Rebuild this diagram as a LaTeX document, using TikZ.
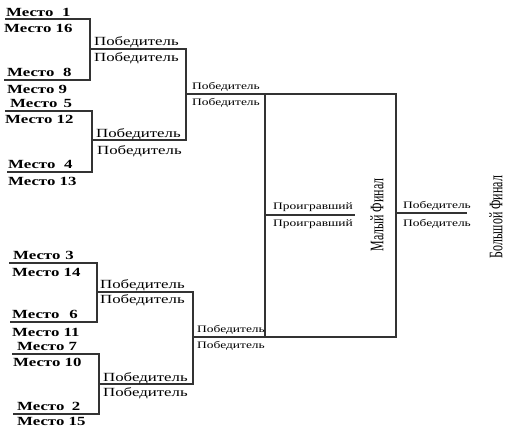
\documentclass[tikz,border=0pt]{standalone}
\usepackage{fontspec}
\setmainfont{Liberation Serif}
\newfontfamily\wfont[FakeStretch=1.35]{Liberation Serif}
\tikzset{
  br/.style={draw=black!80, line width=1.5bp},
  place/.style={anchor=base west, inner sep=0pt, font=\wfont\bfseries\fontsize{12.5}{14}\selectfont},
  win/.style={anchor=base west, inner sep=0pt, font=\wfont\fontsize{12.5}{14}\selectfont},
  win2/.style={anchor=base west, inner sep=0pt, font=\wfont\fontsize{10}{12}\selectfont},
  vlab/.style={inner sep=0pt, font=\fontsize{12}{14}\selectfont},
}
\newcommand{\vtext}[1]{\rotatebox{90}{\scalebox{1}[1.6]{#1}}}
\begin{document}
\begin{tikzpicture}[x=1bp,y=-1bp]
\useasboundingbox (0,0) rectangle (511,431);
% ---- coordinates (pixel positions, y downwards)
% top bracket
\coordinate (a1) at (5,19);   \coordinate (a1r) at (90,19);
\coordinate (a2) at (4,80);   \coordinate (a2r) at (90,80);
\coordinate (w1) at (90,49);  \coordinate (w1r) at (186,49);
\coordinate (a3) at (5,111);  \coordinate (a3r) at (92,111);
\coordinate (a4) at (7,172);  \coordinate (a4r) at (92,172);
\coordinate (w2) at (92,140); \coordinate (w2r) at (186,140);
\coordinate (s1) at (186,94); \coordinate (s1r) at (396,94);
% bottom bracket
\coordinate (b1) at (9,263);   \coordinate (b1r) at (97,263);
\coordinate (b2) at (10,322);  \coordinate (b2r) at (97,322);
\coordinate (w3) at (97,292);  \coordinate (w3r) at (193,292);
\coordinate (b3) at (12,354);  \coordinate (b3r) at (99,354);
\coordinate (b4) at (13,414);  \coordinate (b4r) at (99,414);
\coordinate (w4) at (99,384);  \coordinate (w4r) at (193,384);
\coordinate (s2) at (193,337); \coordinate (s2r) at (396,337);
% box / finals
\coordinate (lt) at (265,94);  \coordinate (lb) at (265,337);
\coordinate (l1) at (265,215); \coordinate (l1r) at (355,215);
\coordinate (f1) at (396,213); \coordinate (f1r) at (467,213);

% ---- lines
\draw[br] (a1) -- (a1r) -- (a2r) -- (a2);
\draw[br] (w1) -- (w1r) -- (w2r) -- (w2);
\draw[br] (a3) -- (a3r) -- (a4r) -- (a4);
\draw[br] (s1) -- (s1r) -- (s2r) -- (s2);
\draw[br] (b1) -- (b1r) -- (b2r) -- (b2);
\draw[br] (w3) -- (w3r) -- (w4r) -- (w4);
\draw[br] (b3) -- (b3r) -- (b4r) -- (b4);
\draw[br] (lt) -- (lb);
\draw[br] (l1) -- (l1r);
\draw[br] (f1) -- (f1r);

% ---- place labels
\node[place] (p1)  at (6,16)   {Место\hspace{0.7em}1};
\node[place] (p16) at (4,32)   {Место 16};
\node[place] (p8)  at (7,76)   {Место\hspace{0.7em}8};
\node[place] (p9)  at (7,93)   {Место 9};
\node[place] (p5)  at (10,107) {Место\hspace{0.5em}5};
\node[place] (p12) at (5,123)  {Место 12};
\node[place] (p4)  at (8,168)  {Место\hspace{0.7em}4};
\node[place] (p13) at (8,185)  {Место 13};
\node[place] (p3)  at (13,259) {Место\hspace{0.4em}3};
\node[place] (p14) at (12,276) {Место 14};
\node[place] (p6)  at (12,318) {Место\hspace{0.8em}6};
\node[place] (p11) at (12,336) {Место 11};
\node[place] (p7)  at (17,350) {Место 7};
\node[place] (p10) at (13,366) {Место 10};
\node[place] (p2)  at (17,410) {Место\hspace{0.6em}2};
\node[place] (p15) at (17,425) {Место 15};

% ---- winner labels
\node[win] (v1a) at (94,45)  {Победитель};
\node[win] (v1b) at (94,61)  {Победитель};
\node[win] (v2a) at (96,137) {Победитель};
\node[win] (v2b) at (97,154) {Победитель};
\node[win] (v3a) at (100,288) {Победитель};
\node[win] (v3b) at (100,303) {Победитель};
\node[win] (v4a) at (103,381) {Победитель};
\node[win] (v4b) at (103,396) {Победитель};
\node[win2] (u1a) at (192,89)  {Победитель};
\node[win2] (u1b) at (192,105) {Победитель};
\node[win2] (u2a) at (197,332) {Победитель};
\node[win2] (u2b) at (197,348) {Победитель};
\node[win2] (q1)  at (273,209) {Проигравший};
\node[win2] (q2)  at (273,226) {Проигравший};
\node[win2] (g1)  at (403,208) {Победитель};
\node[win2] (g2)  at (403,226) {Победитель};

% ---- vertical titles
\node[vlab] (mf) at (377,215) {\vtext{Малый Финал}};
\node[vlab] (bf) at (496,217) {\vtext{Большой Финал}};
\end{tikzpicture}
\end{document}
